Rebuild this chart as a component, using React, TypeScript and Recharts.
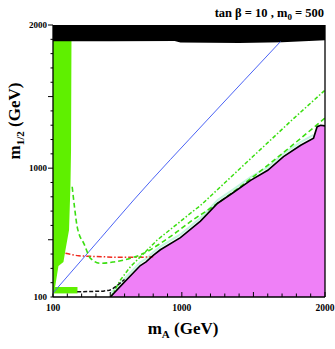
import React from 'react';
import { ComposedChart, Area, Line, XAxis, YAxis } from 'recharts';

// --- axis ticks (GeV) ---
const AXIS_TICKS = [100, 200, 300, 400, 500, 600, 700, 800, 900, 1000, 1100, 1200, 1300, 1400, 1500, 1600, 1700, 1800, 1900, 2000];
const LABELED_TICKS = [100, 1000, 2000];

// --- black excluded band at the top: lower edge ---
const topBandMA = [100, 500, 950, 990, 1400, 1700, 2000];
const topBandLow = [1886, 1887, 1888, 1878, 1875, 1880, 1893];

// --- green strip on the left: lower edge of the green, per mA ---
const greenMA = [100, 115, 117, 128, 138, 173, 187, 212, 222, 226, 229];
const greenLow = [160, 172, 184, 254, 316, 344, 428, 568, 882, 1127, 1886];

// --- small green block near the bottom ---
const blockMA = [100, 271];
const blockLow = [125, 125];
const blockHigh = [170, 170];

// --- magenta (charged LSP) region: upper edge ---
const magentaMA = [500, 580, 710, 750, 800, 850, 990, 1130, 1250, 1360, 1480, 1600, 1710, 1830, 1920, 1945, 1970, 2000];
const magentaTop = [100, 185, 320, 345, 390, 430, 515, 630, 755, 830, 915, 985, 1080, 1160, 1210, 1290, 1300, 1295];

// --- pale strip just above the magenta edge ---
const paleMA = [500, 580, 710, 750, 800, 850, 990, 1130, 1250, 1360, 1480, 1600, 1710, 1830, 1920];
const paleM12 = [122, 207, 342, 367, 412, 452, 537, 652, 777, 852, 937, 1007, 1102, 1182, 1232];

// --- lines ---
const blueMA = [100, 432, 664, 1177, 1689];
const blueM12 = [128, 510, 778, 1336, 1884];

const redMA = [187, 220, 280, 340, 400, 550, 700, 800];
const redM12 = [405, 398, 388, 385, 383, 378, 378, 381];

const dashDotMA = [505, 571, 641, 711, 828, 944, 1060, 1131, 1782, 2000];
const dashDotM12 = [100, 219, 312, 381, 498, 591, 685, 740, 1348, 1545];

const dashedMA = [234, 250, 269, 282, 315, 362, 432, 525, 641, 734, 851, 967, 1060, 1200, 2000];
const dashedM12 = [870, 730, 590, 540, 475, 370, 335, 345, 370, 405, 475, 556, 626, 720, 1350];

const blackDashMA = [269, 350, 450, 495, 520, 560, 600];
const blackDashM12 = [137, 138, 141, 147, 160, 190, 222];

const pts = (xs: number[], ys: number[]) => xs.map((x, i) => ({ mA: x, m12: ys[i] }));
const ranges = (xs: number[], lo: number[], hi: number[]) => xs.map((x, i) => ({ mA: x, r: [lo[i], hi[i]] }));

const topBandData = ranges(topBandMA, topBandLow, topBandMA.map(() => 2000));
const greenData = ranges(greenMA, greenLow, greenMA.map(() => 2000));
const blockData = ranges(blockMA, blockLow, blockHigh);
const magentaData = ranges(magentaMA, magentaMA.map(() => 100), magentaTop);

const FONT = '"Liberation Serif", "DejaVu Serif", serif';

const BottomTick = (props: any) => {
  const { x, y, payload } = props;
  const v = payload.value;
  const len = v % 500 === 0 ? 5 : 3.5;
  return (
    <g>
      <line x1={x} y1={y} x2={x} y2={y - len} stroke="#000" strokeWidth={1} />
      {LABELED_TICKS.includes(v) && (
        <text x={x} y={y + 14} textAnchor="middle" fontFamily={FONT} fontWeight="bold" fontSize={9.5} fill="#000">
          {v}
        </text>
      )}
    </g>
  );
};

const LeftTick = (props: any) => {
  const { x, y, payload } = props;
  const v = payload.value;
  const len = v % 500 === 0 ? 5 : 2.5;
  return (
    <g>
      <line x1={x - len} y1={y} x2={x} y2={y} stroke="#000" strokeWidth={1} />
      {LABELED_TICKS.includes(v) && (
        <text x={x - 6} y={y + 3} textAnchor="end" fontFamily={FONT} fontWeight="bold" fontSize={9} fill="#000">
          {v}
        </text>
      )}
    </g>
  );
};

const RightTick = (props: any) => {
  const { x, y, payload } = props;
  const len = payload.value % 500 === 0 ? 5.5 : 3.5;
  return <line x1={x} y1={y} x2={x - len} y2={y} stroke="#000" strokeWidth={1} />;
};

export default function App() {
  return (
    <div style={{ position: 'absolute', left: 0, top: 0, width: 335, height: 349, background: '#fff' }}>
      <ComposedChart width={335} height={349} margin={{ top: 25, right: 0, bottom: 0, left: 0 }}>
        <XAxis
          type="number"
          dataKey="mA"
          domain={[100, 2000]}
          ticks={AXIS_TICKS}
          interval={0}
          allowDataOverflow
          height={52}
          tickSize={0}
          tickMargin={0}
          tickLine={false}
          tick={<BottomTick />}
          axisLine={{ stroke: '#000', strokeWidth: 1.3 }}
        />
        <YAxis
          type="number"
          domain={[100, 2000]}
          ticks={AXIS_TICKS}
          interval={0}
          allowDataOverflow
          width={53}
          tickSize={0}
          tickMargin={0}
          tickLine={false}
          tick={<LeftTick />}
          axisLine={{ stroke: '#000', strokeWidth: 1.3 }}
        />
        <YAxis
          yAxisId="r"
          orientation="right"
          type="number"
          domain={[100, 2000]}
          ticks={AXIS_TICKS}
          interval={0}
          width={10}
          tickSize={0}
          tickMargin={0}
          tickLine={false}
          tick={<RightTick />}
          axisLine={{ stroke: '#000', strokeWidth: 1.3 }}
        />

        {/* regions */}
        <Area data={greenData} dataKey="r" type="linear" fill="#5ff000" fillOpacity={1} stroke="none" isAnimationActive={false} />
        <Area data={blockData} dataKey="r" type="linear" fill="#5ff000" fillOpacity={1} stroke="none" isAnimationActive={false} />
        <Area data={magentaData} dataKey="r" type="linear" fill="#ef80f7" fillOpacity={1} stroke="none" isAnimationActive={false} />

        {/* curves */}
        <Line data={pts(paleMA, paleM12)} dataKey="m12" type="linear" stroke="#c4f5e0" strokeWidth={2} dot={false} isAnimationActive={false} />
        <Line data={pts(blueMA, blueM12)} dataKey="m12" type="monotone" stroke="#4b63f5" strokeWidth={1} dot={false} isAnimationActive={false} />
        <Line data={pts(redMA, redM12)} dataKey="m12" type="monotone" stroke="#f02a1e" strokeWidth={1.5} strokeDasharray="5 2 1.5 2" dot={false} isAnimationActive={false} />
        <Line data={pts(dashDotMA, dashDotM12)} dataKey="m12" type="linear" stroke="#3ade10" strokeWidth={1.5} strokeDasharray="4 2 1.5 2" dot={false} isAnimationActive={false} />
        <Line data={pts(dashedMA, dashedM12)} dataKey="m12" type="monotone" stroke="#3ade10" strokeWidth={1.6} strokeDasharray="5 3" dot={false} isAnimationActive={false} />
        <Line data={pts(blackDashMA, blackDashM12)} dataKey="m12" type="linear" stroke="#111" strokeWidth={1.5} strokeDasharray="4 2" dot={false} isAnimationActive={false} />
        <Line data={pts(magentaMA, magentaTop)} dataKey="m12" type="linear" stroke="#000" strokeWidth={1.6} dot={false} isAnimationActive={false} />

        {/* black excluded band on top */}
        <Area data={topBandData} dataKey="r" type="linear" fill="#000" fillOpacity={1} stroke="none" isAnimationActive={false} />
      </ComposedChart>

      <svg width={335} height={349} style={{ position: 'absolute', left: 0, top: 0, pointerEvents: 'none' }}>
        <text x={324} y={17} textAnchor="end" fontFamily={FONT} fontWeight="bold" fontSize={12.5} fill="#000">
          tan β = 10 , m<tspan fontSize={9} dy={3}>0</tspan><tspan dy={-3}> = 500</tspan>
        </text>
        <text x={183} y={334} textAnchor="middle" fontFamily={FONT} fontWeight="bold" fontSize={17} fill="#000">
          m<tspan fontSize={11} dy={4}>A</tspan><tspan dy={-4}> (GeV)</tspan>
        </text>
        <text transform="translate(20,121) rotate(-90)" textAnchor="middle" fontFamily={FONT} fontWeight="bold" fontSize={17} fill="#000">
          m<tspan fontSize={11} dy={4}>1/2</tspan><tspan dy={-4}> (GeV)</tspan>
        </text>
      </svg>
    </div>
  );
}
